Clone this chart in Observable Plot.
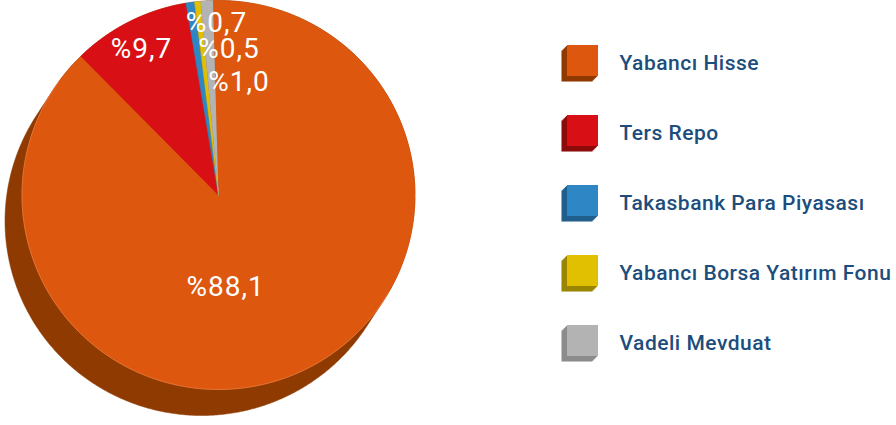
<!DOCTYPE html>
<html><head><meta charset="utf-8">
<script src="https://cdn.jsdelivr.net/npm/d3@7"></script>
<script src="https://cdn.jsdelivr.net/npm/@observablehq/plot@0.6"></script>
<style>
body{margin:0;background:#fff;}
#wrap{display:flex;width:896px;height:425px;overflow:hidden;}
svg{overflow:visible;}
#wrap svg.pie text{letter-spacing:1px;}
#wrap svg.legend text{letter-spacing:0.5px;}
</style></head><body><div id="wrap"></div>
<script>
// ---- data ----
const categories = ["Yabancı Hisse", "Ters Repo", "Takasbank Para Piyasası", "Yabancı Borsa Yatırım Fonu", "Vadeli Mevduat"];
const shares = [88.1, 9.7, 0.7, 0.5, 1.0];
const labels = ["%88,1", "%9,7", "%0,7", "%0,5", "%1,0"];
// ---- styles ----
const faceColors = ["#dd570e", "#d81015", "#2e86c4", "#e0c000", "#b3b3b3"];
const sideColors = ["#8f3a00", "#8c0c0c", "#215f8c", "#9a8500", "#8c8c8c"];
// label anchor spots in pie units (layout)
const labelSpots = [[0.036, 0.473], [-0.392, -0.75], [-0.01, -0.884], [0.053, -0.75], [0.104, -0.58]];

const rad = Math.PI / 180;
const startAngle = -1.6 * rad;
const arcs = d3.pie().sort(null).startAngle(startAngle).endAngle(startAngle + 2 * Math.PI)(shares);

// wedge outlines in pie units (x = sin a, y = -cos a)
const wedgePts = [];
arcs.forEach((a, i) => {
  wedgePts.push({k: i, x: 0, y: 0});
  const n = Math.max(2, Math.ceil((a.endAngle - a.startAngle) / (0.4 * rad)));
  for (let j = 0; j <= n; j++) {
    const t = a.startAngle + (a.endAngle - a.startAngle) * j / n;
    wedgePts.push({k: i, x: Math.sin(t), y: -Math.cos(t)});
  }
});

// extruded side: hull of the face ellipse and its shifted copy
const shift = [-17 / 196.5, 26 / 194.5];
const rim = d3.range(0, 360, 0.5).map(d => [Math.sin(d * rad), -Math.cos(d * rad)]);
const side = d3.polygonHull(rim.concat(rim.map(p => [p[0] + shift[0], p[1] + shift[1]])));
const edge = d3.range(120, 306, 0.5).map(d => [Math.sin(d * rad), -Math.cos(d * rad)]);

const labelData = labels.map((t, i) => ({t, x: labelSpots[i][0], y: labelSpots[i][1]}));

const pie = Plot.plot({
  width: 540, height: 425,
  margin: 0,
  className: "pie",
  x: {domain: [-1, 1], range: [21.5, 414.5], axis: null},
  y: {domain: [-1, 1], range: [0, 389], axis: null},
  color: {type: "identity"},
  style: {fontFamily: "Roboto, sans-serif", background: "transparent"},
  marks: [
    Plot.line(side, {x: d => d[0], y: d => d[1], fill: sideColors[0], stroke: sideColors[0], strokeWidth: 0.5}),
    Plot.line(wedgePts, {x: "x", y: "y", z: "k", fill: d => faceColors[d.k], stroke: d => faceColors[d.k], strokeWidth: 0.5}),
    Plot.line(edge, {x: d => d[0], y: d => d[1], stroke: "#ef8a52", strokeWidth: 0.8, strokeOpacity: 0.8}),
    Plot.text(labelData, {x: "x", y: "y", text: "t", fill: "white", fontSize: 28, fontFamily: "Roboto, sans-serif", lineAnchor: "middle"})
  ]
});
pie.classList.add("pie");

const legendMarks = [];
for (let k = 6; k >= 1; k--) {
  legendMarks.push(Plot.dot(categories, {y: d => d, frameAnchor: "left", symbol: "square", r: 17.5, dx: -k * 0.92, dy: k * 0.92, fill: (d, i) => sideColors[i]}));
}
legendMarks.push(Plot.dot(categories, {y: d => d, frameAnchor: "left", symbol: "square", r: 17.5, fill: (d, i) => faceColors[i]}));
legendMarks.push(Plot.text(categories, {y: d => d, text: d => d, frameAnchor: "left", dx: 37, dy: 3, textAnchor: "start", fill: "#1c4d7c", fontSize: 21, fontWeight: 500, fontFamily: "Roboto, sans-serif"}));

const legend = Plot.plot({
  width: 356, height: 425,
  marginLeft: 42, marginRight: 0, marginTop: 0, marginBottom: 0,
  y: {type: "point", domain: categories, range: [59.5, 339.5], padding: 0, axis: null},
  color: {type: "identity"},
  style: {fontFamily: "Roboto, sans-serif", background: "transparent"},
  marks: legendMarks
});
legend.classList.add("legend");

document.getElementById("wrap").append(pie, legend);
</script>
</body></html>
